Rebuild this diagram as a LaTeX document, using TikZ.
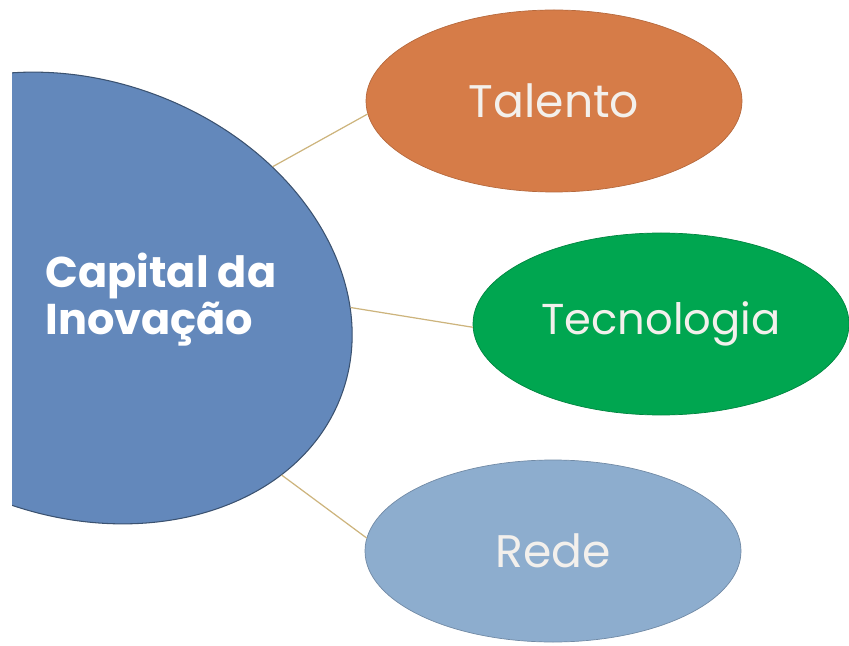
\documentclass[tikz,border=0pt]{standalone}
\usepackage{fontspec}
\setmainfont{Poppins}
\usetikzlibrary{shapes.geometric}

\definecolor{capblue}{RGB}{99,136,187}
\definecolor{talorange}{RGB}{214,124,72}
\definecolor{tecgreen}{RGB}{0,166,80}
\definecolor{redeblue}{RGB}{141,173,206}
\definecolor{linktan}{RGB}{205,180,125}
\definecolor{offwhite}{RGB}{243,240,236}

\tikzset{
  bolha/.style={ellipse, inner sep=0pt, minimum width=7.52cm, minimum height=3.64cm,
    text=offwhite, font=\fontsize{26}{30}\selectfont},
  ligacao/.style={draw=linktan, line width=0.7pt}
}

\begin{document}
\begin{tikzpicture}
\useasboundingbox (0,0) rectangle (16.98,12.9);

% big blue shape, cut at the left edge
\begin{scope}
\clip (0.24,0) rectangle (16.98,12.9);
\node[ellipse, inner sep=0pt, fill=capblue, draw=capblue!60!black, line width=0.6pt,
  minimum width=11.23cm, minimum height=8.70cm, rotate=-20] (capital) at (1.56,6.94) {};
\end{scope}
\node[anchor=west, inner sep=0pt, align=left, text=white,
  font=\bfseries\fontsize{24.5}{26.7}\selectfont] (capitaltxt) at (0.9,6.9) {Capital da\\Inovação};

\node[bolha, fill=talorange, draw=talorange!85!black] (talento) at (11.08,10.88) {Talento};
\node[bolha, fill=tecgreen, draw=tecgreen!80!black, font=\fontsize{24.6}{28}\selectfont] (tecnologia) at (13.22,6.42) {Tecnologia};
\node[bolha, fill=redeblue, draw=redeblue!80!black] (rede) at (11.06,1.88) {Rede};

\draw[ligacao] (capital.54) -- (talento.184);
\draw[ligacao] (capital.18) -- (tecnologia.181);
\draw[ligacao] (capital.-21) -- (rede.176);

\end{tikzpicture}
\end{document}
